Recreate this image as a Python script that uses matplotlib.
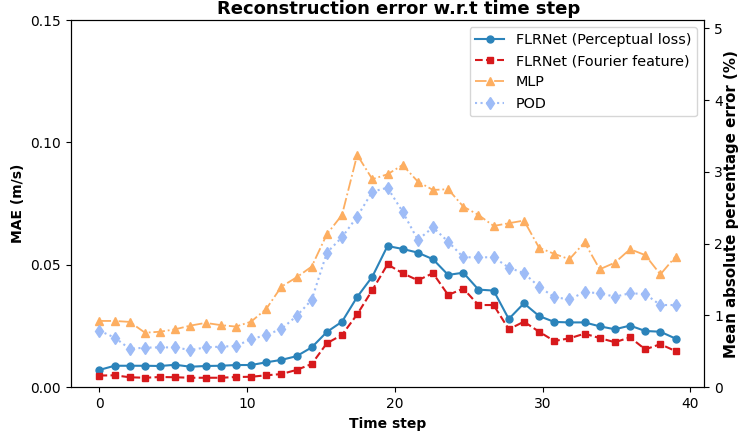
import numpy as np
import matplotlib
matplotlib.use("Agg")
import matplotlib.pyplot as plt

# 39 snapshots spread over time steps 0..39
time_step = np.linspace(0, 39, 39)

mae_perceptual = [0.0071, 0.0088, 0.0088, 0.0088, 0.0087, 0.0092, 0.0084, 0.0087, 0.0088, 0.0091,
                  0.0091, 0.0102, 0.0112, 0.0127, 0.0163, 0.0226, 0.0268, 0.0369, 0.0452, 0.0577,
                  0.0565, 0.0550, 0.0523, 0.0459, 0.0468, 0.0399, 0.0395, 0.0279, 0.0343, 0.0291,
                  0.0267, 0.0265, 0.0265, 0.0249, 0.0237, 0.0252, 0.0230, 0.0227, 0.0199]
mae_fourier = [0.0048, 0.0049, 0.0041, 0.0039, 0.0042, 0.0041, 0.0039, 0.0039, 0.0039, 0.0042,
               0.0043, 0.0049, 0.0054, 0.0071, 0.0095, 0.0180, 0.0214, 0.0298, 0.0397, 0.0502,
               0.0466, 0.0437, 0.0466, 0.0377, 0.0403, 0.0336, 0.0336, 0.0237, 0.0268, 0.0227,
               0.0189, 0.0200, 0.0219, 0.0201, 0.0184, 0.0204, 0.0155, 0.0176, 0.0148]
mae_mlp = [0.0271, 0.0271, 0.0267, 0.0223, 0.0227, 0.0237, 0.0252, 0.0263, 0.0254, 0.0248,
           0.0268, 0.0320, 0.0411, 0.0449, 0.0493, 0.0625, 0.0704, 0.0949, 0.0850, 0.0870,
           0.0908, 0.0840, 0.0806, 0.0809, 0.0738, 0.0704, 0.0659, 0.0670, 0.0681, 0.0570,
           0.0545, 0.0523, 0.0592, 0.0482, 0.0509, 0.0564, 0.0540, 0.0461, 0.0534]
mae_pod = [0.0231, 0.0203, 0.0157, 0.0162, 0.0163, 0.0163, 0.0152, 0.0163, 0.0166, 0.0169,
           0.0196, 0.0214, 0.0238, 0.0291, 0.0357, 0.0550, 0.0613, 0.0697, 0.0799, 0.0815,
           0.0717, 0.0602, 0.0653, 0.0595, 0.0531, 0.0531, 0.0531, 0.0489, 0.0466, 0.0411,
           0.0368, 0.0359, 0.0389, 0.0384, 0.0370, 0.0384, 0.0381, 0.0336, 0.0336]

fig = plt.figure(figsize=(7.4, 4.34), dpi=100)
ax = fig.add_axes([0.0955, 0.1076, 0.8563, 0.8463])

ax.plot(time_step, mae_perceptual, '-o', color='#2b83ba', lw=1.5, ms=5, label='FLRNet (Perceptual loss)')
ax.plot(time_step, mae_fourier, '--s', color='#d7191c', lw=1.5, ms=5, label='FLRNet (Fourier feature)')
ax.plot(time_step, mae_mlp, '-.^', color='#fdae61', lw=1.3, ms=6, label='MLP')
ax.plot(time_step, mae_pod, ':d', color='#9ebcf7', lw=1.5, ms=6, label='POD')

ax.set_ylim(0, 0.15)
ax.set_yticks([0.0, 0.05, 0.10, 0.15])
ax.set_yticklabels(['0.00', '0.05', '0.10', '0.15'])
ax.set_xticks([0, 10, 20, 30, 40])
ax.set_xlabel('Time step', fontweight='bold')
ax.set_ylabel('MAE (m/s)', fontweight='bold')
ax.set_title('Reconstruction error w.r.t time step', fontweight='bold', fontsize=13, pad=4, x=0.517)
ax.legend(loc='upper right', fontsize=10.4)

ax2 = ax.twinx()
ax2.set_ylim(0, 5.115)
ax2.set_yticks([0, 1, 2, 3, 4, 5])
ax2.set_ylabel('Mean absolute percentage error (%)', fontweight='bold', fontsize=10.8, labelpad=1)

fig.savefig('out.png', dpi=100)
